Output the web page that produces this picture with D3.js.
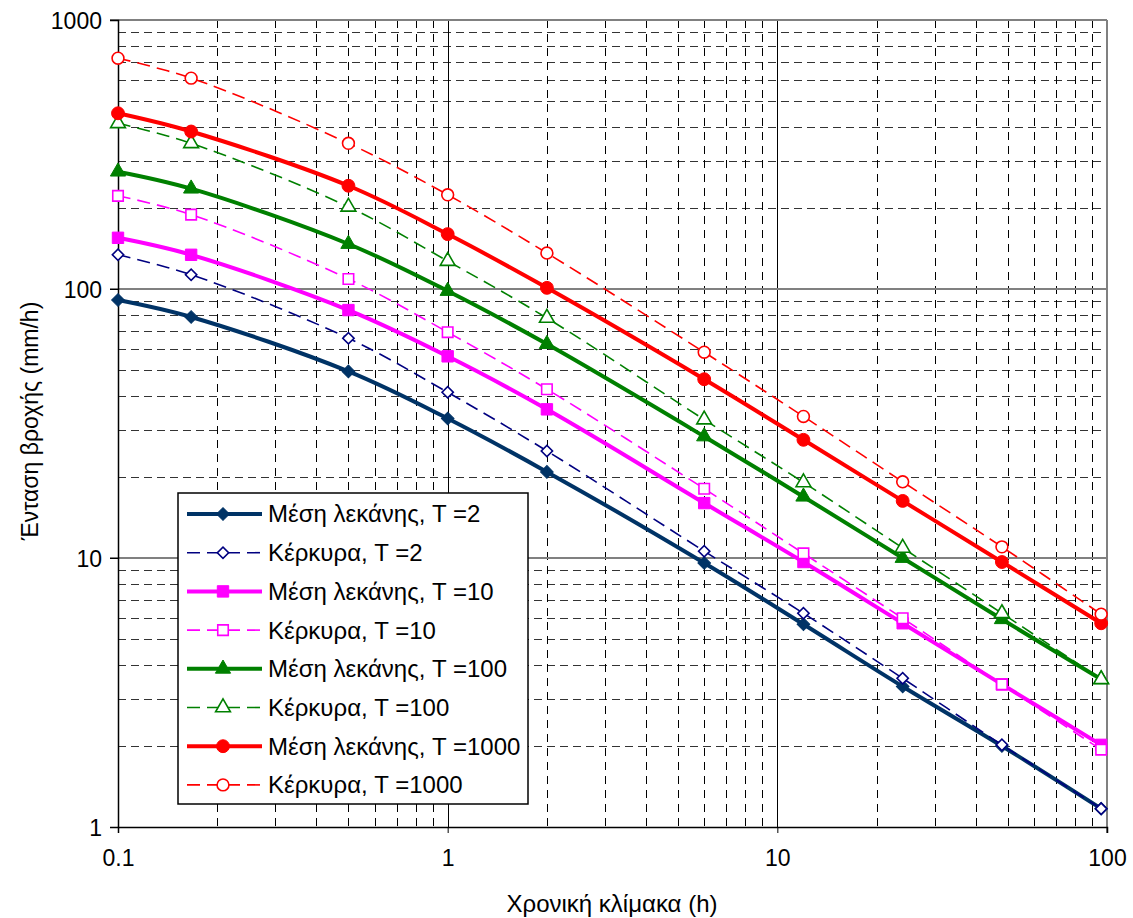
<!DOCTYPE html>
<meta charset="utf-8">
<head>
	<script type="text/javascript" src="https://cdn.jsdelivr.net/npm/d3@7"></script>
	<style>
		body { margin: 0; background: #fff; }
		text { font-family: "Liberation Sans", Arial, sans-serif; fill: #000; }
	</style>
</head>
<body>
	<svg id="chart" width="1133" height="918"></svg>
</body>
<script type="text/javascript">
	// durations (h)
	var durations = [0.1, 1 / 6, 0.5, 1, 2, 6, 12, 24, 48, 96];

	// rainfall intensity (mm/h)
	var basinT2 = [91, 78.7, 49.4, 33, 20.9, 9.58, 5.67, 3.33, 2.0, 1.17];
	var corfuT2 = [134, 113, 65.6, 41.3, 25, 10.6, 6.23, 3.57, 2.02, 1.17];
	var basinT10 = [155, 134, 83.5, 56.2, 35.7, 16, 9.66, 5.72, 3.39, 2.02];
	var corfuT10 = [222, 189, 109, 69.1, 42.4, 18.1, 10.4, 5.97, 3.39, 1.94];
	var basinT100 = [273, 236, 147, 98.3, 62.4, 28.3, 16.9, 10, 5.92, 3.54];
	var corfuT100 = [413, 348, 202, 127, 78, 32.7, 19.1, 10.9, 6.23, 3.54];
	var basinT1000 = [450, 385, 242, 160, 101, 46.2, 27.5, 16.3, 9.66, 5.72];
	var corfuT1000 = [721, 608, 348, 224, 136, 58.2, 33.6, 19.2, 11, 6.18];

	var xTicks = [0.1, 1, 10, 100];
	var yTicks = [1, 10, 100, 1000];

	// diamonds are squares turned 45 degrees
	var series = [
		{name: "Μέση λεκάνης, T =2", values: basinT2, color: "#003366", width: 4, dash: null, symbol: d3.symbolSquare, rot: 45, fill: true, size: 80},
		{name: "Κέρκυρα, T =2", values: corfuT2, color: "#000080", width: 1.6, dash: "13,7", symbol: d3.symbolSquare, rot: 45, fill: false, size: 64},
		{name: "Μέση λεκάνης, T =10", values: basinT10, color: "#FF00FF", width: 4, dash: null, symbol: d3.symbolSquare, rot: 0, fill: true, size: 130},
		{name: "Κέρκυρα, T =10", values: corfuT10, color: "#FF00FF", width: 1.6, dash: "13,7", symbol: d3.symbolSquare, rot: 0, fill: false, size: 110},
		{name: "Μέση λεκάνης, T =100", values: basinT100, color: "#008000", width: 4, dash: null, symbol: d3.symbolTriangle, rot: 0, fill: true, size: 100},
		{name: "Κέρκυρα, T =100", values: corfuT100, color: "#008000", width: 1.6, dash: "13,7", symbol: d3.symbolTriangle, rot: 0, fill: false, size: 95},
		{name: "Μέση λεκάνης, T =1000", values: basinT1000, color: "#FF0000", width: 4, dash: null, symbol: d3.symbolCircle, rot: 0, fill: true, size: 130},
		{name: "Κέρκυρα, T =1000", values: corfuT1000, color: "#FF0000", width: 1.6, dash: "13,7", symbol: d3.symbolCircle, rot: 0, fill: false, size: 110}
	];

	var svg = d3.select("#chart");
	var mLeft = 118, mRight = 1107, mTop = 20, mBottom = 827;

	var x = d3.scaleLog().domain([0.1, 100]).range([mLeft, mRight]);
	var y = d3.scaleLog().domain([1, 1000]).range([mBottom, mTop]);

	// minor grid values
	var xMinor = [], yMinor = [];
	[0.1, 1, 10].forEach(function(d) {
		for (var k = 2; k <= 9; k++) xMinor.push(d * k);
	});
	[1, 10, 100].forEach(function(d) {
		for (var k = 2; k <= 9; k++) yMinor.push(d * k);
	});

	var grid = svg.append("g");
	grid.selectAll(".hminor").data(yMinor).enter().append("line")
		.attr("x1", mLeft).attr("x2", mRight)
		.attr("y1", function(d) { return Math.round(y(d)) + 0.5; })
		.attr("y2", function(d) { return Math.round(y(d)) + 0.5; })
		.attr("stroke", "#333").attr("stroke-width", 1).attr("stroke-dasharray", "8,5");
	grid.selectAll(".vminor").data(xMinor).enter().append("line")
		.attr("y1", mTop).attr("y2", mBottom)
		.attr("x1", function(d) { return Math.round(x(d)) + 0.5; })
		.attr("x2", function(d) { return Math.round(x(d)) + 0.5; })
		.attr("stroke", "#000").attr("stroke-width", 1).attr("stroke-dasharray", "8,6");
	// major grid
	grid.selectAll(".vmajor").data([1, 10]).enter().append("line")
		.attr("y1", mTop).attr("y2", mBottom)
		.attr("x1", function(d) { return Math.round(x(d)) + 0.5; })
		.attr("x2", function(d) { return Math.round(x(d)) + 0.5; })
		.attr("stroke", "#000").attr("stroke-width", 1);
	grid.selectAll(".hmajor").data([10, 100, 1000]).enter().append("line")
		.attr("x1", mLeft - 8).attr("x2", mRight)
		.attr("y1", function(d) { return y(d); })
		.attr("y2", function(d) { return y(d); })
		.attr("stroke", "#808080").attr("stroke-width", 2);
	grid.append("line")
		.attr("x1", mRight).attr("x2", mRight).attr("y1", mTop).attr("y2", mBottom + 6)
		.attr("stroke", "#808080").attr("stroke-width", 2);

	// axes
	var xAxis = d3.axisBottom(x).tickValues(xTicks).tickSize(6).tickFormat(d3.format("~g"));
	var yAxis = d3.axisLeft(y).tickValues(yTicks).tickSize(8).tickFormat(d3.format("~g"));

	var gx = svg.append("g").attr("transform", "translate(0," + mBottom + ")").call(xAxis);
	var gy = svg.append("g").attr("transform", "translate(" + mLeft + ",0)").call(yAxis);
	[gx, gy].forEach(function(g) {
		g.select(".domain").attr("stroke", "#000").attr("stroke-width", 1.5);
		g.selectAll(".tick line").attr("stroke", "#000");
		g.selectAll("text").style("font-size", "23px").style("font-family", "\"Liberation Sans\", Arial, sans-serif").attr("fill", "#000");
	});
	gx.selectAll("text").attr("y", 23).attr("dy", "0.71em");
	gy.selectAll("text").attr("x", -16).attr("dy", "0.35em");

	svg.append("text")
		.attr("x", 612).attr("y", 912)
		.attr("text-anchor", "middle").style("font-size", "24px")
		.text("Χρονική κλίμακα (h)");
	svg.append("text")
		.attr("transform", "translate(38,421) rotate(-90)")
		.attr("text-anchor", "middle").style("font-size", "23px")
		.text("Ένταση βροχής (mm/h)");

	// lines and markers
	var line = d3.line()
		.x(function(d) { return x(d[0]); })
		.y(function(d) { return y(d[1]); })
		.curve(d3.curveCatmullRom.alpha(0.5));

	function marker(sel, s) {
		sel.attr("d", d3.symbol().type(s.symbol).size(s.size))
			.attr("fill", s.fill ? s.color : "#fff")
			.attr("stroke", s.color)
			.attr("stroke-width", s.fill ? 1 : 1.6);
	}

	var plot = svg.append("g");
	series.forEach(function(s) {
		var pts = durations.map(function(t, i) { return [t, s.values[i]]; });
		plot.append("path")
			.attr("d", line(pts))
			.attr("fill", "none")
			.attr("stroke", s.color)
			.attr("stroke-width", s.width)
			.attr("stroke-dasharray", s.dash);
	});
	series.forEach(function(s) {
		var pts = durations.map(function(t, i) { return [t, s.values[i]]; });
		plot.selectAll(null).data(pts).enter().append("path")
			.attr("transform", function(d) { return "translate(" + x(d[0]) + "," + y(d[1]) + ") rotate(" + s.rot + ")"; })
			.call(marker, s);
	});

	// legend
	var lg = svg.append("g").attr("transform", "translate(178,493)");
	lg.append("rect").attr("width", 350).attr("height", 311)
		.attr("fill", "#fff").attr("stroke", "#000").attr("stroke-width", 1.5);
	series.forEach(function(s, i) {
		var row = lg.append("g").attr("transform", "translate(0," + (21 + i * 38.7) + ")");
		row.append("line").attr("x1", 9).attr("x2", 84).attr("y1", 0).attr("y2", 0)
			.attr("stroke", s.color).attr("stroke-width", s.width)
			.attr("stroke-dasharray", s.dash ? "13,7" : null);
		row.append("path")
			.attr("transform", "translate(45,0) rotate(" + s.rot + ")")
			.call(marker, s);
		row.append("text").attr("x", 90).attr("y", 0).attr("dy", "0.35em")
			.style("font-size", "24px").text(s.name);
	});
</script>
